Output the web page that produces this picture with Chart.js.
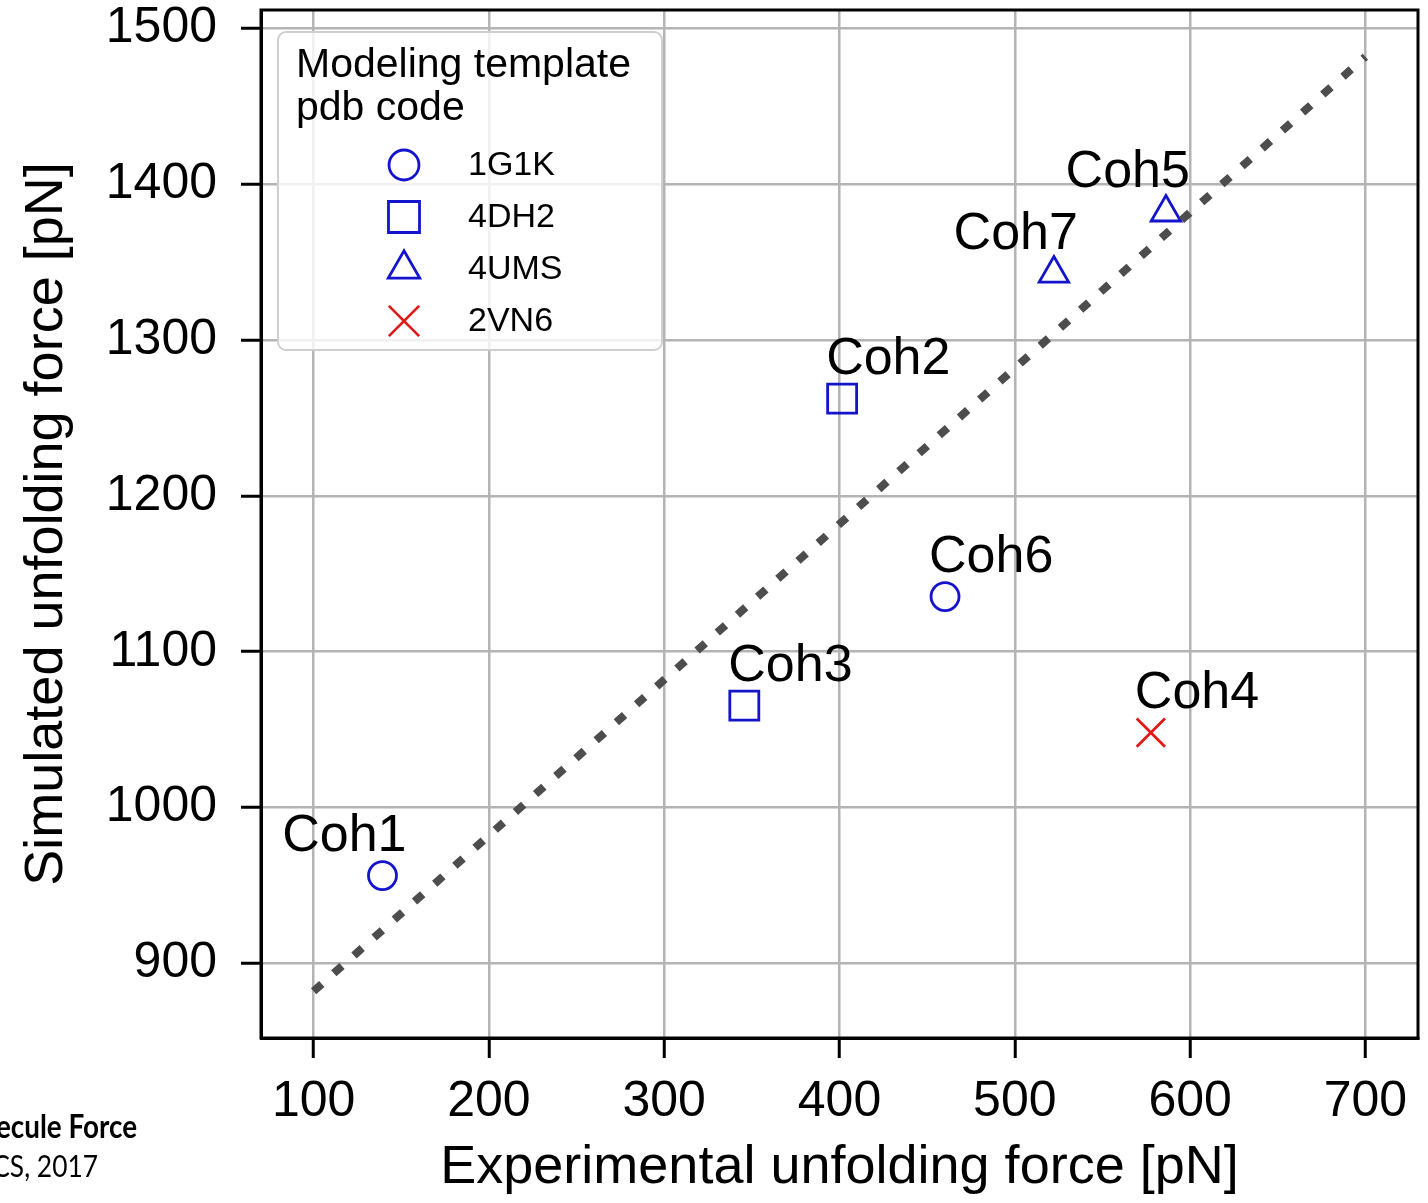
<!DOCTYPE html>
<html>
<head>
<meta charset="utf-8">
<script src="https://cdn.jsdelivr.net/npm/chart.js@4/dist/chart.umd.min.js"></script>
<style>
html,body{margin:0;padding:0;background:#fff;}
#wrap{position:relative;width:1428px;height:1203px;}
canvas{display:block;}
</style>
</head>
<body>
<div id="wrap"><canvas id="c" width="1428" height="1203"></canvas></div>
<script>
// ---- data ----
const templateCodes = ['1G1K', '4DH2', '4UMS', '2VN6'];
const cohNames    = ['Coh1', 'Coh2', 'Coh3', 'Coh4', 'Coh5', 'Coh6', 'Coh7'];
const cohTemplate = ['1G1K', '4DH2', '4DH2', '2VN6', '4UMS', '1G1K', '4UMS'];
const expForce = [139.3, 401.5, 345.7, 577.6, 586.2, 460.2, 522.3];
const simForce = [956.3, 1262.5, 1065.4, 1048.1, 1382.0, 1135.4, 1342.8];
const guideX = [100, 700];
const guideY = [882, 1482];
const xTickValues = [100, 200, 300, 400, 500, 600, 700];
const yTickValues = [900, 1000, 1100, 1200, 1300, 1400, 1500];
const legendTitle = ['Modeling template', 'pdb code'];
const xTitle = 'Experimental unfolding force [pN]';
const yTitle = 'Simulated unfolding force [pN]';
const creditLines = ['ecule Force', 'CS, 2017'];

// ---- styles ----
const FONT = '"Liberation Sans", Arial, Helvetica, sans-serif';
const BLUE = '#1414cc';
const RED = '#e01a1a';
const styleByTemplate = {
  '1G1K': {pointStyle: 'circle',   radius: 14,   color: BLUE},
  '4DH2': {pointStyle: 'rect',     radius: 20.5, color: BLUE},
  '4UMS': {pointStyle: 'triangle', radius: 17,   color: BLUE},
  '2VN6': {pointStyle: 'crossRot', radius: 20,   color: RED}
};
const rightAlignedLabels = ['Coh1', 'Coh5', 'Coh7'];

const datasets = templateCodes.map(code => {
  const st = styleByTemplate[code];
  const pts = [];
  cohNames.forEach((n, i) => {
    if (cohTemplate[i] === code) pts.push({x: expForce[i], y: simForce[i], name: n});
  });
  return {
    type: 'scatter', label: code, data: pts,
    pointStyle: st.pointStyle, pointRadius: st.radius, pointHoverRadius: st.radius,
    pointBorderColor: st.color, borderColor: st.color,
    pointBackgroundColor: 'rgba(0,0,0,0)', backgroundColor: 'rgba(0,0,0,0)',
    pointBorderWidth: 2.8, pointHoverBorderWidth: 2.8, borderWidth: 2.8,
    showLine: false, order: 1
  };
});
datasets.push({
  type: 'line', label: 'guide',
  data: guideX.map((x, i) => ({x: x, y: guideY[i]})),
  borderColor: '#4d4d4d', borderWidth: 8, borderDash: [11, 16],
  pointRadius: 0, pointHoverRadius: 0, fill: false, tension: 0, order: 0
});

const cohLabelPlugin = {
  id: 'cohLabels',
  afterDatasetsDraw(chart) {
    const ctx = chart.ctx;
    ctx.save();
    ctx.font = '52px ' + FONT;
    ctx.fillStyle = '#000';
    ctx.textBaseline = 'alphabetic';
    chart.data.datasets.forEach((ds, di) => {
      if (ds.type !== 'scatter') return;
      const meta = chart.getDatasetMeta(di);
      meta.data.forEach((el, j) => {
        const name = ds.data[j].name;
        const right = rightAlignedLabels.includes(name);
        ctx.textAlign = right ? 'right' : 'left';
        ctx.fillText(name, el.x + (right ? 24 : -16), el.y - 25);
      });
    });
    ctx.restore();
  }
};

function roundRectPath(ctx, x, y, w, h, r) {
  ctx.beginPath();
  ctx.moveTo(x + r, y);
  ctx.lineTo(x + w - r, y);
  ctx.arcTo(x + w, y, x + w, y + r, r);
  ctx.lineTo(x + w, y + h - r);
  ctx.arcTo(x + w, y + h, x + w - r, y + h, r);
  ctx.lineTo(x + r, y + h);
  ctx.arcTo(x, y + h, x, y + h - r, r);
  ctx.lineTo(x, y + r);
  ctx.arcTo(x, y, x + r, y, r);
  ctx.closePath();
}

const framePlugin = {
  id: 'frameLegend',
  afterDraw(chart) {
    const ctx = chart.ctx;
    const a = chart.chartArea;
    ctx.save();
    // frame
    ctx.strokeStyle = '#000';
    ctx.lineWidth = 3;
    ctx.strokeRect(a.left, a.top, a.right - a.left, a.bottom - a.top);

    // legend box
    const lx = a.left + 17, ly = a.top + 22, lw = 384, lh = 318;
    roundRectPath(ctx, lx, ly, lw, lh, 8);
    ctx.fillStyle = 'rgba(255,255,255,0.8)';
    ctx.fill();
    ctx.strokeStyle = '#cfcfcf';
    ctx.lineWidth = 2;
    ctx.stroke();

    ctx.fillStyle = '#000';
    ctx.textAlign = 'left';
    ctx.textBaseline = 'alphabetic';
    ctx.font = '41px ' + FONT;
    ctx.fillText(legendTitle[0], lx + 18, ly + 45);
    ctx.fillText(legendTitle[1], lx + 18, ly + 88);

    ctx.font = '34px ' + FONT;
    ctx.textBaseline = 'middle';
    const rowY0 = ly + 133, rowStep = 52;
    templateCodes.forEach((code, i) => {
      const st = styleByTemplate[code];
      const y = rowY0 + i * rowStep;
      const mx = lx + 126;
      ctx.fillStyle = 'rgba(0,0,0,0)';
      ctx.strokeStyle = st.color;
      ctx.lineWidth = 2.8;
      Chart.helpers.drawPoint(ctx, {pointStyle: st.pointStyle, radius: st.radius * 1.07, rotation: 0, borderWidth: 2.8}, mx, y);
      ctx.fillStyle = '#000';
      ctx.fillText(code, lx + 190, y + 1);
    });

    // credit text (partially cropped in the source image)
    ctx.textAlign = 'right';
    ctx.textBaseline = 'alphabetic';
    ctx.save();
    ctx.scale(0.87, 1);
    ctx.font = 'bold 32px Lato, "Open Sans", sans-serif';
    ctx.fillText(creditLines[0], 137 / 0.87, 1138);
    ctx.restore();
    ctx.save();
    ctx.scale(0.85, 1);
    ctx.font = '31px Lato, "Open Sans", sans-serif';
    ctx.fillText(creditLines[1], 98 / 0.85, 1177);
    ctx.restore();
    ctx.restore();
  }
};

const tickFont = {family: FONT, size: 50};
const titleFont = {family: FONT, size: 54};

new Chart(document.getElementById('c'), {
  data: {datasets: datasets},
  options: {
    responsive: false,
    animation: false,
    events: [],
    layout: {autoPadding: false, padding: {top: 10, right: 10, left: 0, bottom: 0}},
    plugins: {legend: {display: false}, tooltip: {enabled: false}},
    scales: {
      x: {
        type: 'linear', position: 'bottom', min: 70, max: 730,
        afterBuildTicks: s => { s.ticks = xTickValues.map(v => ({value: v})); },
        afterFit: s => { s.height = 165; s.paddingLeft = 0; s.paddingRight = 0; },
        ticks: {font: tickFont, color: '#000', padding: 14, maxRotation: 0, autoSkip: false,
                callback: v => String(v)},
        grid: {color: '#b4b4b4', lineWidth: 2.5, tickColor: '#000', tickWidth: 3, tickLength: 20, drawTicks: true},
        border: {display: true, color: '#000', width: 3},
        title: {display: true, text: xTitle, font: titleFont, color: '#000', padding: {top: 0, bottom: 2}}
      },
      y: {
        type: 'linear', position: 'left', min: 852, max: 1512,
        afterBuildTicks: s => { s.ticks = yTickValues.map(v => ({value: v})); },
        afterFit: s => { s.width = 261; s.paddingTop = 0; s.paddingBottom = 0; },
        ticks: {font: tickFont, color: '#000', padding: 24, autoSkip: false,
                callback: v => String(v)},
        grid: {color: '#b4b4b4', lineWidth: 2.5, tickColor: '#000', tickWidth: 3, tickLength: 20, drawTicks: true},
        border: {display: true, color: '#000', width: 3},
        title: {display: true, text: yTitle, font: titleFont, color: '#000', padding: {top: 15, bottom: 0}}
      }
    }
  },
  plugins: [cohLabelPlugin, framePlugin]
});
</script>
</body>
</html>
